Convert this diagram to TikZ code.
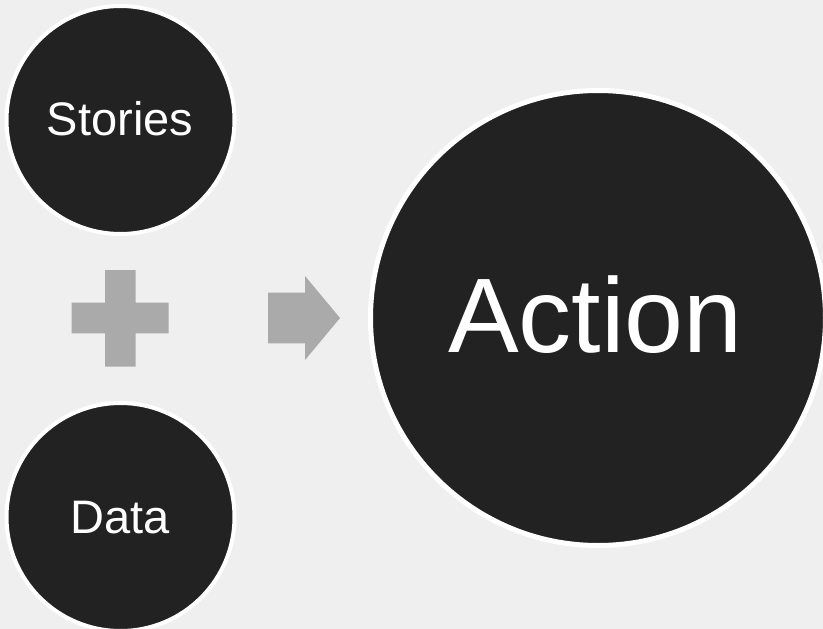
\documentclass[tikz,border=0pt]{standalone}
\usepackage{fontspec}
\setmainfont{Liberation Sans}
\definecolor{bg}{HTML}{EFEFEF}
\definecolor{disc}{HTML}{222222}
\definecolor{sym}{HTML}{AAAAAA}
\begin{document}
\begin{tikzpicture}[x=1pt,y=-1pt,
  disk/.style={circle,draw=white,fill=disc,inner sep=0pt,outer sep=0pt},
  smalldisk/.style={disk,line width=4pt,minimum size=228pt},
  bigdisk/.style={disk,line width=5pt,minimum size=455pt},
  word/.style={text=white,inner sep=0pt,anchor=base},
  symbol/.style={fill=sym,draw=none}]
\useasboundingbox (0,0) rectangle (823,629);
\fill[bg] (0,0) rectangle (823,629);
\clip (0,0) rectangle (823,629);
\node[smalldisk] (stories) at (120.5,120) {};
\node[smalldisk] (data) at (120.5,517) {};
\node[bigdisk] (action) at (598,318) {};
\node[word,font=\fontsize{47}{50}\selectfont] (tstories) at (120,135) {Stories};
\node[word,font=\fontsize{47}{50}\selectfont] (tdata) at (120,533) {Data};
\node[word,font=\fontsize{106}{110}\selectfont] (taction) at (595.5,352) {Action};
% plus sign
\fill[symbol] (105,270) -- (135.7,270) -- (135.7,302.7) -- (168.7,302.7) -- (168.7,333.3)
  -- (135.7,333.3) -- (135.7,366.7) -- (105,366.7) -- (105,333.3) -- (71.7,333.3)
  -- (71.7,302.7) -- (105,302.7) -- cycle;
% block arrow
\fill[symbol] (268,292.7) -- (305,292.7) -- (305,276) -- (340,318) -- (305,360)
  -- (305,343.3) -- (268,343.3) -- cycle;
\end{tikzpicture}
\end{document}
